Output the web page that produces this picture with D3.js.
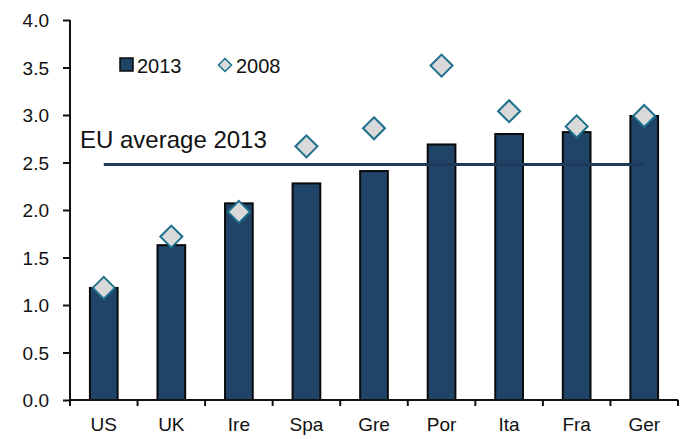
<!DOCTYPE html>
<html>
<head>
<meta charset="utf-8">
<script src="https://cdn.jsdelivr.net/npm/d3@7"></script>
<style>
  body { margin: 0; background: #fff; }
  svg text { font-family: "Liberation Sans", Arial, sans-serif; fill: #111; }
</style>
</head>
<body>
<svg id="chart" width="681" height="439"></svg>
<script>
const countries = ["US", "UK", "Ire", "Spa", "Gre", "Por", "Ita", "Fra", "Ger"];
const values2013 = [1.18, 1.63, 2.07, 2.28, 2.41, 2.69, 2.80, 2.82, 2.99];
const values2008 = [1.18, 1.72, 1.98, 2.67, 2.86, 3.52, 3.04, 2.88, 2.99];
const euAverage2013 = 2.48;
const yTicks = [0, 0.5, 1, 1.5, 2, 2.5, 3, 3.5, 4];

const svg = d3.select("#chart");
const plotLeft = 70, plotRight = 678, plotTop = 20, plotBottom = 400;

const x = d3.scaleBand().domain(countries).range([plotLeft, plotRight]).paddingInner(0.59).paddingOuter(0.295);
const y = d3.scaleLinear().domain([0, 4]).range([plotBottom, plotTop]);

// bars
svg.append("g")
  .selectAll("rect")
  .data(countries)
  .join("rect")
  .attr("x", (d) => x(d))
  .attr("y", (d, i) => y(values2013[i]))
  .attr("width", x.bandwidth())
  .attr("height", (d, i) => plotBottom - y(values2013[i]))
  .attr("fill", "#1f4468")
  .attr("stroke", "#0a0a0a")
  .attr("stroke-width", 2);

// EU average line
const centre = (d) => x(d) + x.bandwidth() / 2;
svg.append("line")
  .attr("x1", centre(countries[0]))
  .attr("x2", centre(countries[countries.length - 1]))
  .attr("y1", y(euAverage2013))
  .attr("y2", y(euAverage2013))
  .attr("stroke", "#1d3a58")
  .attr("stroke-width", 3);

svg.append("text")
  .attr("x", 80)
  .attr("y", y(euAverage2013) - 16)
  .attr("font-size", "24px")
  .text("EU average 2013");

// diamonds
const diamond = (s) => `M0,${-s}L${s},0L0,${s}L${-s},0Z`;
svg.append("g")
  .selectAll("path")
  .data(countries)
  .join("path")
  .attr("transform", (d, i) => `translate(${centre(d)},${y(values2008[i])})`)
  .attr("d", diamond(11))
  .attr("fill", "#d9d9d9")
  .attr("stroke", "#1a6f8c")
  .attr("stroke-width", 2);

// axes
const yAxis = svg.append("g")
  .attr("transform", `translate(${plotLeft},0)`)
  .call(d3.axisLeft(y).tickValues(yTicks).tickFormat(d3.format(".1f")).tickSize(7).tickPadding(14));
const xAxis = svg.append("g")
  .attr("transform", `translate(0,${plotBottom})`)
  .call(d3.axisBottom(x).tickSize(0).tickPadding(18));

[yAxis, xAxis].forEach((g) => {
  g.select(".domain").attr("stroke", "#111").attr("stroke-width", 2);
  g.selectAll(".tick line").attr("stroke", "#111").attr("stroke-width", 2);
  g.selectAll("text").attr("font-size", "19px").attr("fill", "#111")
    .style("font-family", "'Liberation Sans', Arial, sans-serif");
});
yAxis.select(".domain").attr("d", `M0,${plotTop}V${plotBottom}`);
yAxis.selectAll(".tick text").attr("dy", "0.35em");

// x tick marks at band boundaries
svg.append("g")
  .selectAll("line")
  .data(countries.concat(["_end"]))
  .join("line")
  .attr("x1", (d, i) => plotLeft + i * x.step())
  .attr("x2", (d, i) => plotLeft + i * x.step())
  .attr("y1", plotBottom)
  .attr("y2", plotBottom + 6)
  .attr("stroke", "#111")
  .attr("stroke-width", 2);
xAxis.select(".domain").attr("d", `M${plotLeft},0H${plotRight}`);

// legend
const legend = svg.append("g");
legend.append("rect")
  .attr("x", 120).attr("y", 58).attr("width", 13).attr("height", 13)
  .attr("fill", "#1f4468").attr("stroke", "#0a0a0a").attr("stroke-width", 1.5);
legend.append("text").attr("x", 137).attr("y", 73).attr("font-size", "20px").text("2013");
legend.append("path")
  .attr("transform", "translate(225,65)")
  .attr("d", diamond(6.5))
  .attr("fill", "#d9d9d9").attr("stroke", "#1a6f8c").attr("stroke-width", 1.5);
legend.append("text").attr("x", 236).attr("y", 73).attr("font-size", "20px").text("2008");
</script>
</body>
</html>
